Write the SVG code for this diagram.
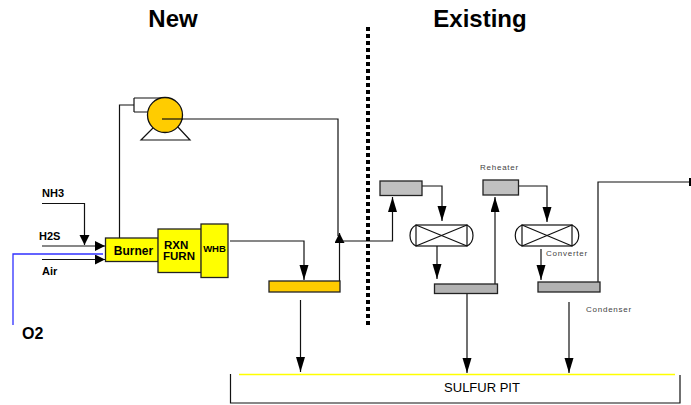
<svg xmlns="http://www.w3.org/2000/svg" width="691" height="405" viewBox="0 0 691 405">
<style>
text{font-family:"Liberation Sans",Arial,sans-serif;fill:#000}
.b{font-weight:bold}
.s{font-size:8px;fill:#444;letter-spacing:.75px}
.l{fill:none;stroke:#111;stroke-width:1.2}
.box{stroke:#222;stroke-width:1.3}
</style>
<defs>
<marker id="a" markerUnits="userSpaceOnUse" markerWidth="11" markerHeight="11" refX="10" refY="5" orient="auto"><path d="M0 0L10 5L0 10Z" fill="#000"/></marker>
<marker id="d" markerUnits="userSpaceOnUse" markerWidth="16" markerHeight="10" refX="15" refY="4.5" orient="auto"><path d="M0 0L15 4.5L0 9Z" fill="#000"/></marker>
</defs>
<g id="connectors">
<path class="l" d="M42 203.5H84.5V245" marker-end="url(#a)"/>
<path class="l" d="M42 246H105" marker-end="url(#a)"/>
<path class="l" d="M42 259.5H105" marker-end="url(#a)"/>
<path fill="none" stroke="#3030ff" stroke-width="1.3" d="M13 325V254H103"/>
<path class="l" d="M119.5 238V105H134M134 98V112M134 98H165M134 112H148"/>
<path class="l" d="M162 119H338V236"/>
<path class="l" d="M339.5 281V233" marker-end="url(#a)"/>
<path class="l" d="M230 241H304V280" marker-end="url(#d)"/>
<path class="l" d="M340 241H392.5V197" marker-end="url(#d)"/>
<path class="l" d="M422 186H442V221" marker-end="url(#d)"/>
<path class="l" d="M437 246V279" marker-end="url(#d)"/>
<path class="l" d="M495 290V197" marker-end="url(#d)"/>
<path class="l" d="M519 186H547V222" marker-end="url(#d)"/>
<path class="l" d="M541 249V280" marker-end="url(#d)"/>
<path class="l" d="M598 282V182H689"/>
<path stroke="#000" stroke-width="2" d="M690 178V186"/>
<path class="l" d="M300.5 300V372" marker-end="url(#d)"/>
<path class="l" d="M467 293V373" marker-end="url(#d)"/>
<path class="l" d="M569 302V373" marker-end="url(#d)"/>
<path stroke="#000" stroke-width="4" stroke-dasharray="4 3" d="M368 27V327"/>
</g>
<g id="pump">
<path class="l" d="M155 126L141 140H190L177 126"/>
<circle cx="165" cy="115" r="17.5" fill="#ffcc00" stroke="#111" stroke-width="1.3"/>
<path class="l" d="M162 119H183"/>
</g>
<g id="burner"><rect class="box" x="105.5" y="238" width="53" height="23.5" fill="#ffff00"/><text class="b" x="133.5" y="255" font-size="12" text-anchor="middle">Burner</text></g>
<g id="furnace"><rect class="box" x="158" y="229" width="43.5" height="43.5" fill="#ffff00"/><text class="b" x="164" y="249" font-size="11.5">RXN</text><text class="b" x="163" y="260" font-size="11.5">FURN</text></g>
<g id="whb"><rect class="box" x="201" y="224" width="27" height="53.5" fill="#ffff00"/><text class="b" x="214.5" y="252" font-size="9.5" text-anchor="middle">WHB</text></g>
<g id="condenser-new"><rect class="box" x="269" y="281" width="71" height="11" fill="#ffcc00"/></g>
<g id="heater-1"><rect class="box" x="380" y="181" width="42" height="14.5" fill="#c0c0c0"/></g>
<g id="converter-1"><path class="l" d="M416 225C408 229 408 242 416 246M467 225C475 229 475 242 467 246"/><rect class="l" x="416" y="225" width="51" height="21" fill="#fff"/><path class="l" d="M416 225L467 246M416 246L467 225"/></g>
<g id="condenser-1"><rect class="box" x="434.5" y="284" width="63" height="9.5" fill="#b2b2b2"/></g>
<g id="reheater"><rect class="box" x="483" y="180" width="35.5" height="15" fill="#c0c0c0"/><text class="s" x="480" y="170">Reheater</text></g>
<g id="converter-2"><path class="l" d="M522 225C513 229 513 242 522 246M572 225C581 229 581 242 572 246"/><rect class="l" x="522" y="225" width="50" height="21" fill="#fff"/><path class="l" d="M522 225L572 246M522 246L572 225"/><text class="s" x="546" y="256">Converter</text></g>
<g id="condenser-2"><rect class="box" x="538" y="282" width="62" height="10" fill="#b2b2b2"/><text class="s" x="586" y="312">Condenser</text></g>
<g id="sulfur-pit">
<path class="l" d="M230.5 374V403H680V375"/>
<path stroke="#ffff00" stroke-width="1.5" d="M239 374.5H675"/>
<text x="482" y="392" font-size="13" text-anchor="middle">SULFUR PIT</text>
</g>
<g id="labels">
<text class="b" x="173" y="27" font-size="24" text-anchor="middle">New</text>
<text class="b" x="480" y="27" font-size="24" text-anchor="middle">Existing</text>
<text class="b" x="42" y="197" font-size="11">NH3</text>
<text class="b" x="39" y="240" font-size="11">H2S</text>
<text class="b" x="42" y="275" font-size="11">Air</text>
<text class="b" x="22" y="339" font-size="16">O2</text>
</g>
</svg>
